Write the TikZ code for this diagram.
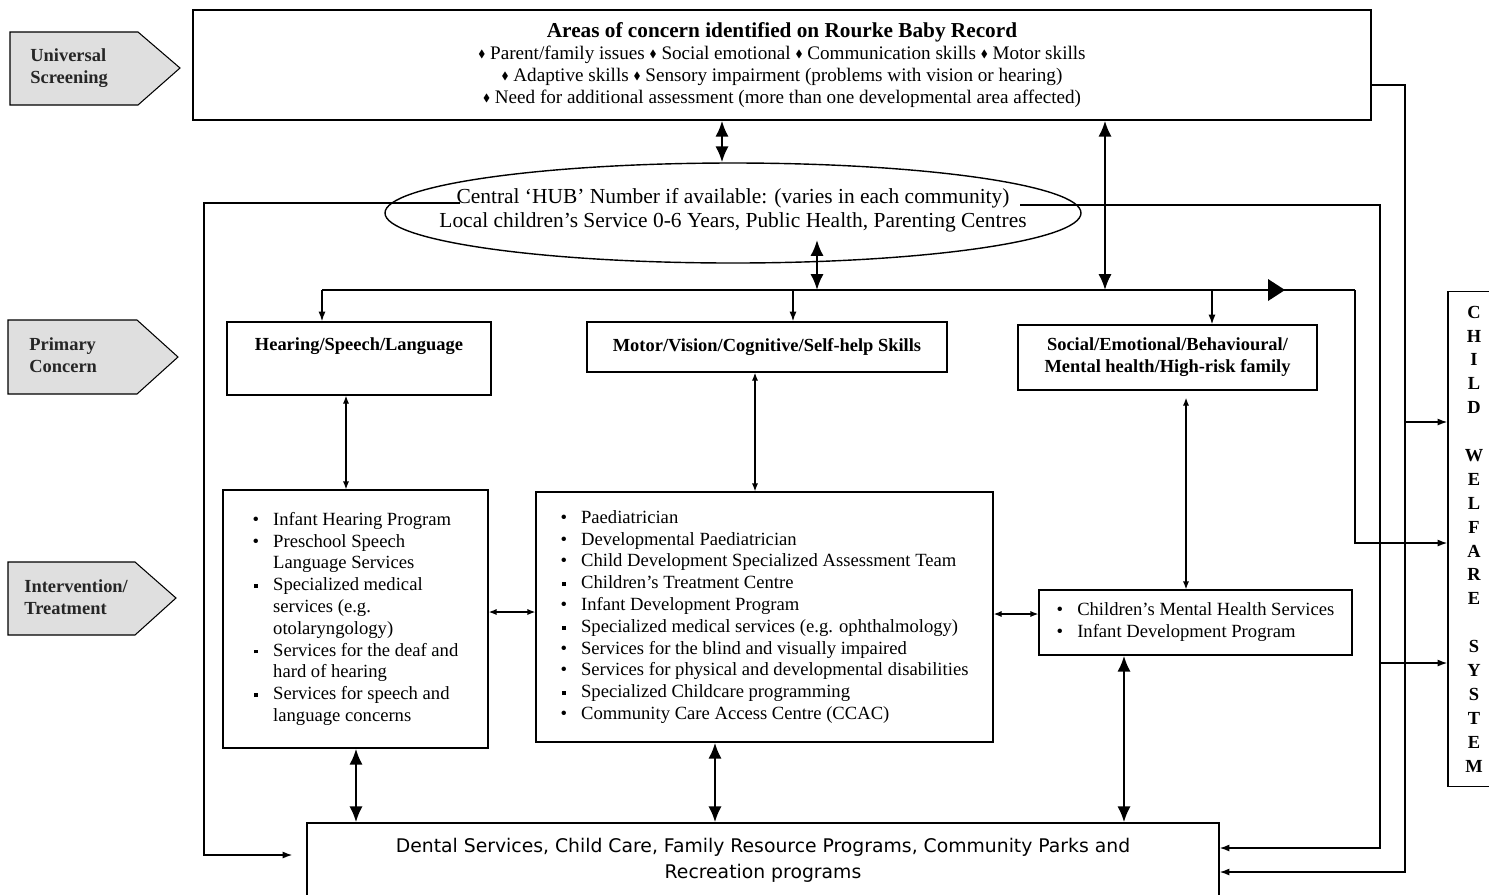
\documentclass[tikz,border=0pt]{standalone}
\usepackage{amssymb}
\usepackage{fontspec}
\setmainfont{Liberation Serif}
\newfontfamily\verd{DejaVu Sans}
\usetikzlibrary{shapes.geometric,arrows.meta}

\newcommand{\dia}{\raisebox{0.2ex}{\scalebox{0.55}{$\blacklozenge$}}}
\newcommand{\sqb}{\rule[0.3ex]{0.45ex}{0.45ex}}
\newcommand{\rdb}{\textbullet}

\tikzset{
  box/.style 2 args={draw, line width=0.8pt, minimum width=#1*0.02cm,
    minimum height=#2*0.02cm, inner sep=0pt},
  head/.style={font=\fontsize{10.5}{12.5}\selectfont\bfseries, align=center},
  list/.style={font=\fontsize{10.6}{12.4}\selectfont},
  tagtxt/.style={font=\fontsize{10.5}{12.5}\selectfont\bfseries, align=left,
    anchor=west, inner sep=0pt, text=black!85},
  link/.style={line width=0.8pt},
  bus/.style={line width=1.1pt},
  into/.style={link, -{Latex[length=5.5pt,width=4pt]}},
  fat/.style={line width=1.3pt,
    {Latex[length=9pt,width=7.5pt]}-{Latex[length=9pt,width=7.5pt]}},
  thin/.style={line width=0.7pt,
    {Latex[length=4.5pt,width=3.5pt]}-{Latex[length=4.5pt,width=3.5pt]}},
}

\begin{document}
\begin{tikzpicture}[x=0.02cm,y=-0.02cm]
  \useasboundingbox (0,0) rectangle (1489,894);

  % level tags on the left
  \filldraw[fill=gray!25, line width=0.6pt] (10,32) -- (138,32) -- (180,68) -- (138,105) -- (10,105) -- cycle;
  \filldraw[fill=gray!25, line width=0.6pt] (8,320) -- (137,320) -- (178,357) -- (137,394) -- (8,394) -- cycle;
  \filldraw[fill=gray!25, line width=0.6pt] (8,562) -- (135,562) -- (176,598) -- (135,635) -- (8,635) -- cycle;
  \node[tagtxt] (usT) at (30,68) {Universal\\Screening};
  \node[tagtxt] (pcT) at (29,355) {Primary\\Concern};
  \node[tagtxt] (itT) at (24,597) {Intervention/\\Treatment};

  % boxes
  \node[box={1178}{110}, align=center, font=\fontsize{10.9}{12.5}\selectfont] (top) at (782,65)
    {{\fontsize{12.1}{13}\selectfont\bfseries Areas of concern identified on Rourke Baby Record}\\
     \dia\ Parent/family issues \dia\ Social emotional \dia\ Communication skills \dia\ Motor skills\\
     \dia\ Adaptive skills \dia\ Sensory impairment (problems with vision or hearing)\\
     \dia\ Need for additional assessment (more than one developmental area affected)};

  \node[draw, ellipse, line width=0.8pt, inner sep=0pt, minimum width=696*0.02cm,
    minimum height=100*0.02cm] (hub) at (733,213) {};
  \node[align=center, font=\fontsize{12.2}{13.8}\selectfont] (hubT) at (733,210)
    {Central `HUB' Number if available: (varies in each community)\\
     Local children's Service 0-6 Years, Public Health, Parenting Centres};

  \node[box={264}{73}, label={[head,anchor=center,yshift=-0.5cm]north:Hearing/Speech/Language}]
    (hear) at (359,358.5) {};
  \node[box={360}{50}, head] (mot) at (767,347) {Motor/Vision/Cognitive/Self-help Skills};
  \node[box={299}{65}, head] (soc) at (1167.5,357.5)
    {Social/Emotional/Behavioural/\\Mental health/High-risk family};

  \node[box={265}{258}, list] (hearL) at (355.5,619) {%
    \begin{tabular}{@{}c@{\hspace{8pt}}l@{}}
      \rdb & Infant Hearing Program\\
      \rdb & Preschool Speech\\
           & Language Services\\
      \sqb & Specialized medical\\
           & services (e.g.\\
           & otolaryngology)\\
      \sqb & Services for the deaf and\\
           & hard of hearing\\
      \sqb & Services for speech and\\
           & language concerns
    \end{tabular}};
  \node[box={457}{250}, list] (motL) at (764.5,617) {%
    \begin{tabular}{@{}c@{\hspace{8pt}}l@{}}
      \rdb & Paediatrician\\
      \rdb & Developmental Paediatrician\\
      \rdb & Child Development Specialized Assessment Team\\
      \sqb & Children's Treatment Centre\\
      \rdb & Infant Development Program\\
      \sqb & Specialized medical services (e.g. ophthalmology)\\
      \rdb & Services for the blind and visually impaired\\
      \rdb & Services for physical and developmental disabilities\\
      \sqb & Specialized Childcare programming\\
      \rdb & Community Care Access Centre (CCAC)
    \end{tabular}};
  \node[box={313}{65}, list] (socL) at (1195.5,622.5) {%
    \begin{tabular}{@{}c@{\hspace{8pt}}l@{}}
      \rdb & Children's Mental Health Services\\
      \rdb & Infant Development Program
    \end{tabular}};

  \node[box={912}{74}, align=center, font=\verd\fontsize{10.7}{14.7}\selectfont] (bot) at (763,860)
    {Dental Services, Child Care, Family Resource Programs, Community Parks and\\Recreation programs};

  \node[box={52}{495}, align=center, font=\fontsize{10.5}{13.6}\selectfont\bfseries] (cws) at (1474,539)
    {C\\H\\I\\L\\D\\[13.6pt]W\\E\\L\\F\\A\\R\\E\\[13.6pt]S\\Y\\S\\T\\E\\M};

  % points the connectors run through
  \coordinate (a1) at (722,140);
  \coordinate (a2) at (817,240);
  \coordinate (busL) at (322,290);
  \coordinate (busM) at (817,290);
  \coordinate (busT) at (1105,290);
  \coordinate (busR) at (1355,290);
  \coordinate (b2) at (793,290);
  \coordinate (b3) at (1212,290);
  \coordinate (tri) at (1285,290);
  \coordinate (topR) at (1371,85);
  \coordinate (hubL) at (460,203);
  \coordinate (hubR) at (1020,205);
  \coordinate (cw1) at (1405,422);
  \coordinate (cw2) at (1448,543);
  \coordinate (cw3) at (1380,663);
  \coordinate (cornA) at (1380,848);
  \coordinate (cornB) at (1405,872);
  \coordinate (cornC) at (204,855);
  \coordinate (t1) at (346,440);
  \coordinate (t2) at (755,430);
  \coordinate (t3) at (1186,490);
  \coordinate (h1) at (512,612);
  \coordinate (h2) at (1016,614);
  \coordinate (f1) at (356,785);
  \coordinate (f2) at (715,780);
  \coordinate (f3) at (1124,740);

  % screening, hub and the bus
  \draw[fat] (top.south -| a1) -- (hub.north -| a1);
  \draw[fat] (a2) -- (busM);
  \draw[fat] (top.south -| busT) -- (busT);
  \draw[bus] (busL) -- (busR);
  \draw[into] (busR) |- (cws.west |- cw2);
  \fill (tri) -- (1268,279) -- (1268,301) -- cycle;
  \draw[into] (busL) -- (busL |- hear.north);
  \draw[into] (b2) -- (b2 |- mot.north);
  \draw[into] (b3) -- (b3 |- soc.north);

  % lines to child welfare and the community box
  \draw[into] (topR) -| (cornB) -- (bot.east |- cornB);
  \draw[into] (cw1) -- (cws.west |- cw1);
  \draw[into] (hubR) -| (cornA) -- (bot.east |- cornA);
  \draw[into] (cw3) -- (cws.west |- cw3);
  \draw[into, shorten >=0.28cm] (hubL) -| (cornC) -- (bot.west |- cornC);

  % concern to services
  \draw[thin] (hear.south -| t1) -- (hearL.north -| t1);
  \draw[thin] (mot.south -| t2) -- (motL.north -| t2);
  \draw[thin, shorten <=4pt] (soc.south -| t3) -- (socL.north -| t3);
  \draw[thin] (hearL.east |- h1) -- (motL.west |- h1);
  \draw[thin] (motL.east |- h2) -- (socL.west |- h2);

  % services to community
  \draw[fat] (hearL.south -| f1) -- (bot.north -| f1);
  \draw[fat] (motL.south -| f2) -- (bot.north -| f2);
  \draw[fat] (socL.south -| f3) -- (bot.north -| f3);
\end{tikzpicture}
\end{document}
